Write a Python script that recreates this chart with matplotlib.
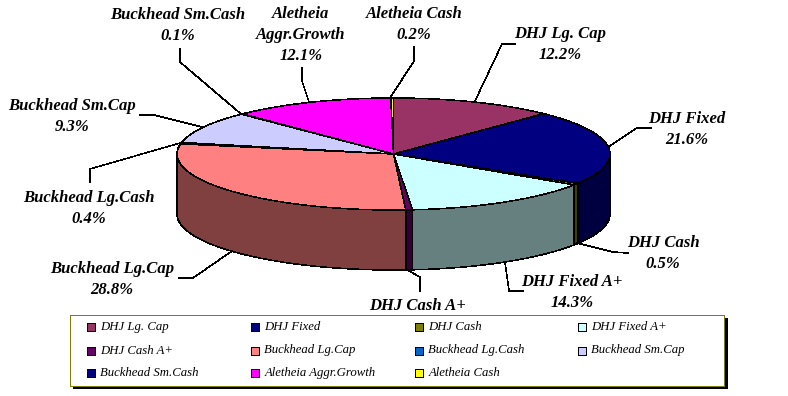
import numpy as np
import matplotlib
matplotlib.use("Agg")
import matplotlib.pyplot as plt
from matplotlib.patches import Polygon, Rectangle

names = ["DHJ Lg. Cap", "DHJ Fixed", "DHJ Cash", "DHJ Fixed A+", "DHJ Cash A+", "Buckhead Lg.Cap",
         "Buckhead Lg.Cash", "Buckhead Sm.Cap", "Buckhead Sm.Cash", "Aletheia Aggr.Growth", "Aletheia Cash"]
values = [12.2, 21.6, 0.5, 14.3, 0.5, 28.8, 0.4, 9.3, 0.1, 12.1, 0.2]
colors = ["#993366", "#000080", "#808000", "#CCFFFF", "#660066", "#FF8080",
          "#0066CC", "#CCCCFF", "#000080", "#FF00FF", "#FFFF00"]
side_colors = ["#4d1a33", "#000040", "#404000", "#668080", "#330033", "#804040",
               "#003366", "#666680", "#000040", "#800080", "#808000"]

# label text, centre x, y of first line
label_text = ["DHJ Lg. Cap\n12.2%", "DHJ Fixed\n21.6%", "DHJ Cash\n0.5%", "DHJ Fixed A+\n14.3%", "DHJ Cash A+",
              "Buckhead Lg.Cap\n28.8%", "Buckhead Lg.Cash\n0.4%", "Buckhead Sm.Cap\n9.3%", "Buckhead Sm.Cash\n0.1%",
              "Aletheia\nAggr.Growth\n12.1%", "Aletheia Cash\n0.2%"]
label_x = [560, 687, 663, 572, 418, 112, 89, 72, 178, 301, 414]
label_y = [33, 118, 242, 281, 305, 268, 197, 105, 14, 13, 13]

# leader lines, in picture pixels
leaders = [[(515, 44), (502, 44), (475, 101)],
           [(651, 128), (637, 128), (608, 147)],
           [(628, 253), (613, 252), (577, 243)],
           [(523, 291), (509, 291), (505, 262)],
           [(420, 291), (420, 277), (409, 271)],
           [(179, 278), (193, 278), (232, 251)],
           [(90, 182), (90, 169), (180, 143)],
           [(140, 115), (154, 115), (202, 127)],
           [(180, 49), (180, 62), (241, 114)],
           [(302, 68), (302, 81), (309, 102)],
           [(414, 47), (414, 61), (390, 98)]]

cx, cy = 393.5, 154
rx, ry = 216.5, 56
depth = 60
lw = 0.4

legend_x = [87, 251.5, 415.5, 578.5]
legend_y = [327, 350.5, 373]

plt.rcParams['font.family'] = ['Liberation Serif', 'DejaVu Serif']

fig = plt.figure(figsize=(7.88, 3.96), dpi=100)
ax = fig.add_axes([0, 0, 1, 1])
ax.set_xlim(0, 788)
ax.set_ylim(396, 0)
ax.axis("off")


def rim(t0, t1, dy=0):
    t = np.linspace(t0, t1, max(int((t1 - t0) * 120), 2))
    return np.column_stack([cx + rx * np.sin(t), cy + dy - ry * np.cos(t)])


edges = np.concatenate([[0], np.cumsum(values)]) / np.sum(values) * 2 * np.pi

# walls first, only the front half shows
for i in range(len(values)):
    t0 = max(edges[i], np.pi / 2)
    t1 = min(edges[i + 1], 3 * np.pi / 2)
    if t1 <= t0:
        continue
    pts = np.vstack([rim(t0, t1), rim(t0, t1, depth)[::-1]])
    ax.add_patch(Polygon(pts, closed=True, fc=side_colors[i], ec="black", lw=lw, antialiased=False, zorder=2))

for i in range(len(values)):
    pts = np.vstack([[cx, cy], rim(edges[i], edges[i + 1])])
    ax.add_patch(Polygon(pts, closed=True, fc=colors[i], ec="black", lw=lw, antialiased=False, zorder=3))

for line in leaders:
    xs, ys = zip(*line)
    ax.plot(xs, ys, color="black", lw=lw, antialiased=False, zorder=4)

for txt, x, y in zip(label_text, label_x, label_y):
    ax.text(x, y - 7, txt, ha="center", va="top", fontsize=12, fontweight="bold", fontstyle="italic",
            color="black", linespacing=1.42, zorder=5)

# legend box, shadow then frame
ax.add_patch(Rectangle((73, 318), 655, 71, fc="black", ec="none", zorder=6))
ax.add_patch(Rectangle((70.5, 314.5), 654, 71, fc="white", ec="#808000", lw=0.6, antialiased=False, zorder=7))

for i, name in enumerate(names):
    row = i // 4
    col = i % 4
    ax.add_patch(Rectangle((legend_x[col], legend_y[row] - 4), 8, 8, fc=colors[i], ec="black", lw=lw,
                           antialiased=False, zorder=8))
    ax.text(legend_x[col] + 13, legend_y[row], name, ha="left", va="center", fontsize=9.2, fontstyle="italic",
            color="black", zorder=8)

fig.savefig("out.png", dpi=100, facecolor="white")
